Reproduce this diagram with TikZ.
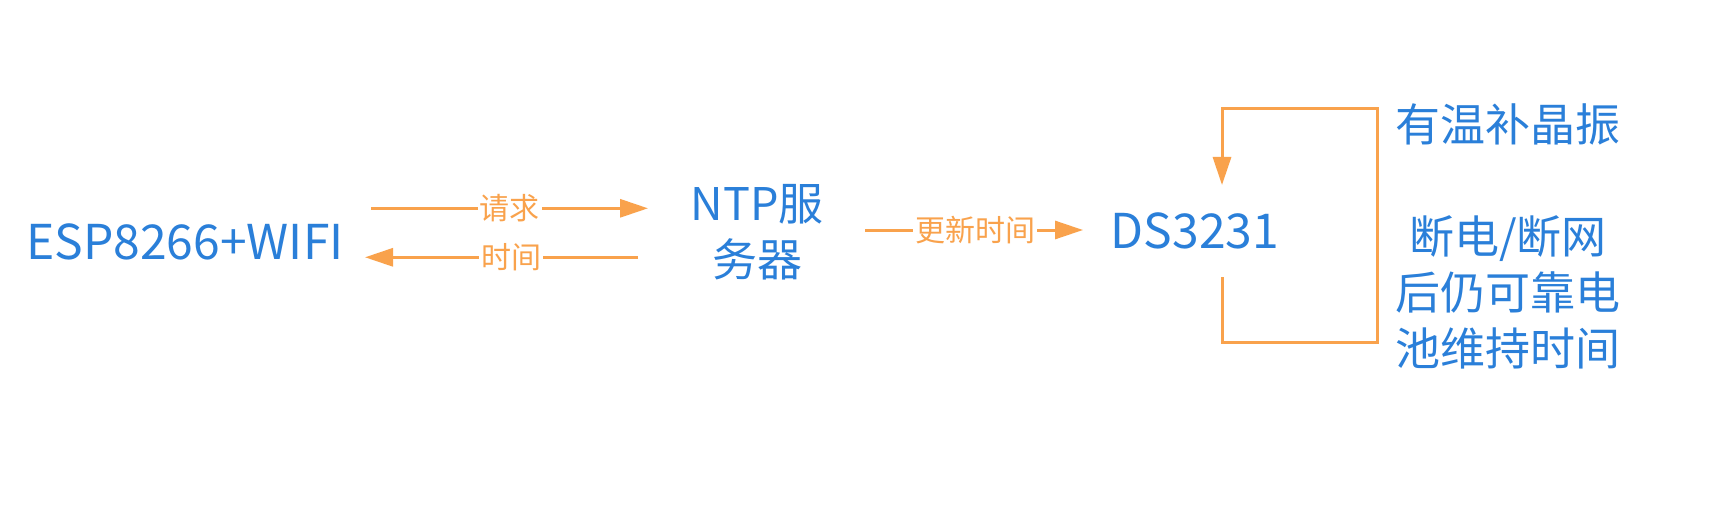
\documentclass[tikz,border=0pt]{standalone}
\usepackage{fontspec}
\setmainfont{Noto Sans CJK SC}
\usetikzlibrary{arrows.meta}
\definecolor{tblue}{HTML}{2A7FD9}
\definecolor{torange}{HTML}{F9A24C}
\begin{document}
\begin{tikzpicture}[x=1pt,y=-1pt,
  bluetext/.style={text=tblue, font=\fontsize{45}{56}\selectfont, inner sep=0pt, align=center},
  latintext/.style={bluetext, font=\fontsize{48}{56}\selectfont},
  lbl/.style={text=torange, font=\fontsize{30}{34}\selectfont, fill=white, inner sep=2pt},
  arr/.style={draw=torange, line width=3pt, -{Triangle[length=28pt,width=18pt]}},
]
\useasboundingbox (0,0) rectangle (1723,505);
\fill[white] (0,0) rectangle (1723,505);
\node[latintext] (esp) at (185,241.5) {ESP8266+WIFI};
\node[bluetext] (ntp) at (757,232) {NTP服\\务器};
\node[latintext] (ds) at (1195,230.5) {DS3231};
\node[bluetext] (note) at (1508,236) {有温补晶振\\[56pt]断电/断网\\后仍可靠电\\池维持时间};
\coordinate (q1) at (371,208.3);
\coordinate (q2) at (648,208.3);
\coordinate (t1) at (638,257.3);
\coordinate (t2) at (365,257.3);
\coordinate (u1) at (865,230);
\coordinate (u2) at (1083,230);
\coordinate (l1) at (1222,277);
\coordinate (l2) at (1222,185);
\draw[arr] (q1) -- node[lbl] {请求} (q2);
\draw[arr] (t1) -- node[lbl,pos=0.465] {时间} (t2);
\draw[arr] (u1) -- node[lbl,pos=0.505] {更新时间} (u2);
\draw[arr] (l1) -- (1222,342) -- (1377,342) -- (1377,109) -- (1222,109) -- (l2);
\end{tikzpicture}
\end{document}
